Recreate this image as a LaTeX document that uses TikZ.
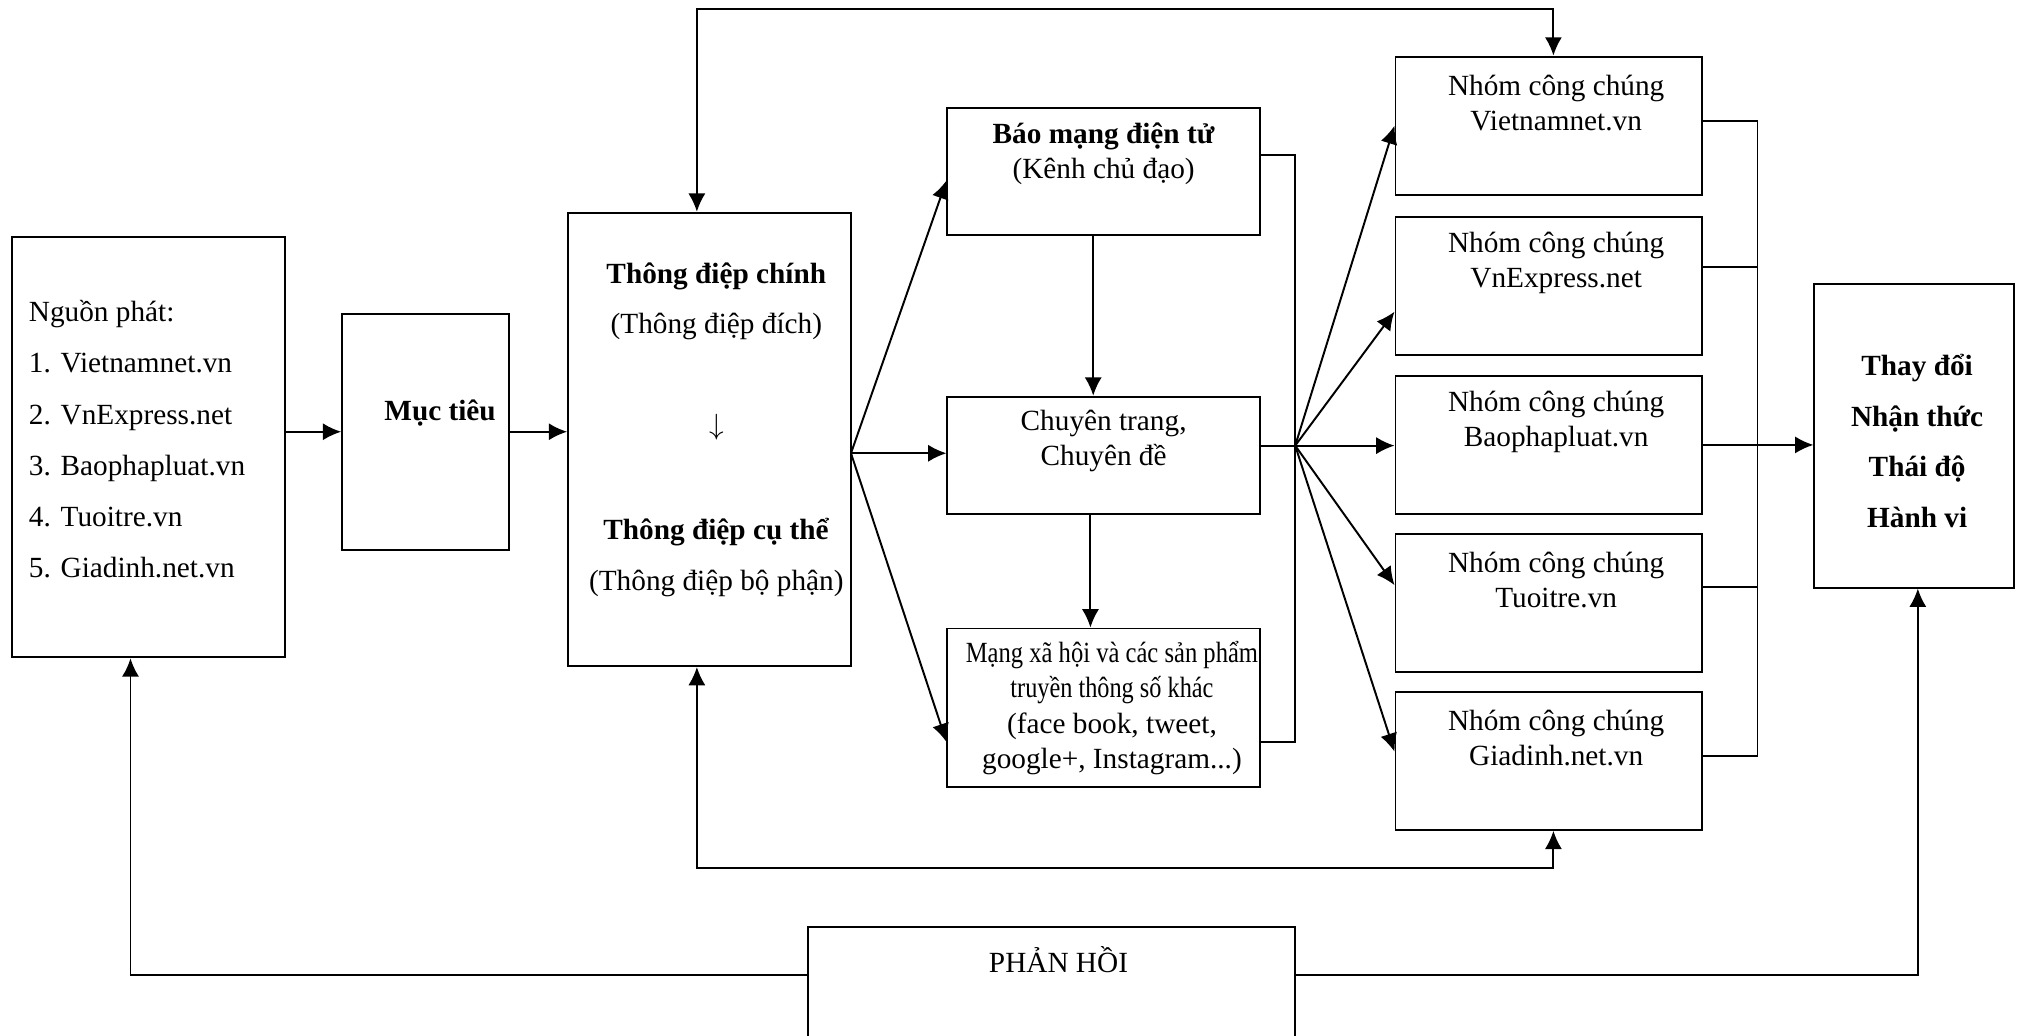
\documentclass[tikz,border=0pt]{standalone}
\usepackage{fontspec}
\setmainfont{Liberation Serif}
\usepackage{graphicx}
\usetikzlibrary{arrows.meta}

\begin{document}
\begin{tikzpicture}[
    box/.style={draw, line width=0.8pt, inner sep=0pt},
    txt/.style={align=center, inner sep=0pt, font=\fontsize{12}{14.5}\selectfont},
    link/.style={line width=0.8pt},
    arr/.style={line width=0.8pt, -{Latex[length=7.5pt,width=7pt]}},
    twoarr/.style={line width=0.8pt, {Latex[length=7.5pt,width=7pt]}-{Latex[length=7.5pt,width=7pt]}}
  ]
      \clip (0,0) rectangle (29.16,-14.92);

      % boxes
      \node[box, minimum width=3.94cm, minimum height=6.06cm] (src) at (2.14,-6.44) {};
      \node[box, minimum width=2.40cm, minimum height=3.40cm] (goal) at (6.13,-6.22) {};
      \node[box, minimum width=4.07cm, minimum height=6.53cm] (msg) at (10.22,-6.33) {};
      \node[box, minimum width=4.50cm, minimum height=1.82cm] (web) at (15.90,-2.47) {};
      \node[box, minimum width=4.50cm, minimum height=1.69cm] (topic) at (15.90,-6.56) {};
      \node[box, minimum width=4.50cm, minimum height=2.29cm] (social) at (15.90,-10.20) {};
      \node[box, minimum width=4.41cm, minimum height=1.99cm] (g1) at (22.31,-1.81) {};
      \node[box, minimum width=4.41cm, minimum height=1.99cm] (g2) at (22.31,-4.12) {};
      \node[box, minimum width=4.41cm, minimum height=1.99cm] (g3) at (22.31,-6.41) {};
      \node[box, minimum width=4.41cm, minimum height=1.99cm] (g4) at (22.31,-8.69) {};
      \node[box, minimum width=4.41cm, minimum height=1.99cm] (g5) at (22.31,-10.96) {};
      \node[box, minimum width=2.88cm, minimum height=4.37cm] (outcome) at (27.58,-6.28) {};
      \node[box, minimum width=7.01cm, minimum height=2.50cm] (fb) at (15.15,-14.61) {};

      % texts
      \node[txt, align=left, anchor=west] (srct) at (0.41,-6.33) {Nguồn phát:\\[6.5pt]
        1. Vietnamnet.vn\\[6.5pt] 2. VnExpress.net\\[6.5pt] 3. Baophapluat.vn\\[6.5pt]
        4. Tuoitre.vn\\[6.5pt] 5. Giadinh.net.vn};
      \node[txt] (goalt) at (6.34,-5.95) {\textbf{Mục tiêu}};
      \node[txt] (msgt1) at (10.32,-3.98) {\textbf{Thông điệp chính}};
      \node[txt] (msgt2) at (10.32,-4.71) {(Thông điệp đích)};
      \node[txt] (msgdown) at (10.32,-6.16) {$\downarrow$};
      \node[txt] (msgt3) at (10.32,-7.66) {\textbf{Thông điệp cụ thể}};
      \node[txt] (msgt4) at (10.32,-8.41) {(Thông điệp bộ phận)};
      \node[txt] (webt) at (15.90,-2.22) {\textbf{Báo mạng điện tử}\\(Kênh chủ đạo)};
      \node[txt] (topict) at (15.90,-6.35) {Chuyên trang,\\Chuyên đề};
      \node[txt] (socialt) at (16.02,-10.20) {\scalebox{0.84}[1]{Mạng xã hội và các sản phẩm}\\
        \scalebox{0.83}[1]{truyền thông số khác}\\(face book, tweet,\\google+, Instagram...)};
      \node[txt] (g1t) at (22.42,-1.48) {Nhóm công chúng\\Vietnamnet.vn};
      \node[txt] (g2t) at (22.42,-3.79) {Nhóm công chúng\\VnExpress.net};
      \node[txt] (g3t) at (22.42,-6.08) {Nhóm công chúng\\Baophapluat.vn};
      \node[txt] (g4t) at (22.42,-8.36) {Nhóm công chúng\\Tuoitre.vn};
      \node[txt] (g5t) at (22.42,-10.63) {Nhóm công chúng\\Giadinh.net.vn};
      \node[txt] (outt) at (27.62,-6.35) {\textbf{Thay đổi}\\[6.2pt]\textbf{Nhận thức}\\[6.2pt]
        \textbf{Thái độ}\\[6.2pt]\textbf{Hành vi}};
      \node[txt] (fbt) at (15.25,-13.82) {PHẢN HỒI};

      \coordinate (fork1) at (12.26,-6.53);
      \coordinate (fork2) at (18.66,-6.42);
      \coordinate (rbus) at (25.32,-6.41);
      \coordinate (toploop) at (16,-0.13);
      \coordinate (botloop) at (16,-12.50);
      \coordinate (fbline) at (15.15,-14.04);
      \coordinate (g2r) at ([yshift=0.28cm]g2.east);
      \coordinate (g4r) at ([yshift=0.24cm]g4.east);

      \draw[arr] (src.east |- goal.west) -- (goal.west);
      \draw[arr] (goal.east) -- (goal.east -| msg.west);

      \draw[arr] (fork1) -- ([yshift=-0.13cm]web.west);
      \draw[arr] (fork1) -- (fork1 -| topic.west);
      \draw[arr] (fork1) -- ([yshift=-0.49cm]social.west);
      \draw[arr] ([xshift=-0.15cm]web.south) -- ([xshift=-0.15cm]topic.north);
      \draw[arr] ([xshift=-0.19cm]topic.south) -- ([xshift=-0.19cm]social.north);

      \draw[link] ([yshift=0.24cm]web.east) -| (fork2) |- ([yshift=-0.49cm]social.east);
      \draw[link] ([yshift=0.14cm]topic.east) -- (fork2);

      \draw[arr] (fork2) -- (g1.west);
      \draw[arr] (fork2) -- ([yshift=-0.37cm]g2.west);
      \draw[arr] (fork2) -- (fork2 -| g3.west);
      \draw[arr] (fork2) -- ([yshift=0.26cm]g4.west);
      \draw[arr] (fork2) -- ([yshift=0.13cm]g5.west);

      \draw[link] ([yshift=0.06cm]g1.east) -| (rbus) |- ([yshift=0.07cm]g5.east);
      \draw[link] (g2r) -- (g2r -| rbus);
      \draw[link] (g4r) -- (g4r -| rbus);
      \draw[arr] (g3.east) -- (g3.east -| outcome.west);

      \draw[twoarr] ([xshift=-0.18cm]msg.north) |- (toploop) -| ([xshift=0.07cm]g1.north);
      \draw[twoarr] ([xshift=-0.18cm]msg.south) |- (botloop) -| ([xshift=0.07cm]g5.south);

      \draw[arr] (fbline -| fb.west) -| ([xshift=-0.26cm]src.south);
      \draw[arr] (fbline -| fb.east) -| ([xshift=0.05cm]outcome.south);
\end{tikzpicture}
\end{document}
